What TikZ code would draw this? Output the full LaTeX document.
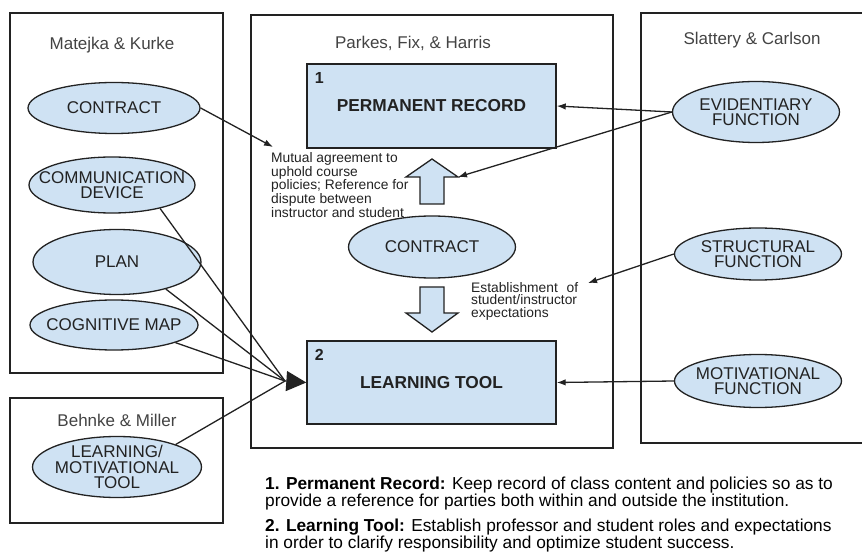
\documentclass[tikz,border=0pt]{standalone}
\usepackage{fontspec}
\setmainfont{Liberation Sans}
\usetikzlibrary{shapes.geometric,arrows.meta}
\definecolor{boxblue}{HTML}{CFE2F3}
\definecolor{ink}{HTML}{222222}

\begin{document}
\begin{tikzpicture}[x=1pt,y=-1pt,
  group/.style={draw=ink, line width=1.4pt},
  oval/.style={ellipse, draw=ink, line width=1.3pt, fill=boxblue, inner sep=0pt},
  ovaltext/.style={align=center, inner sep=0pt, text=ink, font=\fontsize{17}{15.5}\selectfont},
  block/.style={rectangle, draw=ink, line width=1.4pt, fill=boxblue, minimum width=249pt,
                inner sep=0pt, text=ink, font=\fontsize{17.3}{20}\selectfont\bfseries},
  tag/.style={inner sep=0pt, text=ink, font=\fontsize{16}{18}\selectfont\bfseries},
  title/.style={inner sep=0pt, text=ink!85, font=\fontsize{17}{20}\selectfont},
  note/.style={anchor=north west, align=left, inner sep=0pt, text=ink,
               font=\fontsize{13.8}{12.8}\selectfont},
  link/.style={draw=ink, line width=1.3pt, -{Latex[length=9pt,width=6.5pt]}},
  feed/.style={draw=ink, line width=1.3pt},
  hollow/.style={draw=ink, line width=1.3pt, fill=boxblue, line join=miter}
]
\useasboundingbox (0,0) rectangle (862,553);

% ---- source groups ----
\draw[group] (10,13) rectangle (223,373);
\node[title] (mktitle) at (112,45) {Matejka \& Kurke};
\draw[group] (10,398) rectangle (223,523);
\node[title] (bmtitle) at (117,420) {Behnke \& Miller};
\draw[group] (251,15) rectangle (613,448);
\node[title] (pfhtitle) at (413,43) {Parkes, Fix, \& Harris};
\draw[group] (866,13) -- (641,13) -- (641,443) -- (866,443);
\node[title] (sctitle) at (752,40) {Slattery \& Carlson};

% ---- Matejka & Kurke ----
\node[oval, minimum width=172pt, minimum height=51pt,
      label={[ovaltext]center:CONTRACT}] (mk_contract) at (114,108) {};
\node[oval, minimum width=166pt, minimum height=56pt,
      label={[ovaltext]center:{COMMUNICATION\\DEVICE}}] (mk_comm) at (112,185) {};
\node[oval, minimum width=168pt, minimum height=65pt,
      label={[ovaltext]center:PLAN}] (mk_plan) at (117,262) {};
\node[oval, minimum width=168pt, minimum height=50pt,
      label={[ovaltext]center:COGNITIVE MAP}] (mk_cog) at (114,325) {};

% ---- Behnke & Miller ----
\node[oval, minimum width=169pt, minimum height=61pt,
      label={[ovaltext]center:{LEARNING/\\MOTIVATIONAL\\TOOL}}] (bm_tool) at (117,467) {};

% ---- Parkes, Fix, & Harris ----
\node[block, minimum height=84pt] (pr) at (431.5,106) {PERMANENT RECORD};
\node[tag] (prnum) at ([xshift=13pt,yshift=-15pt]pr.north west) {1};
\node[block, minimum height=83pt] (lt) at (431.5,382.5) {LEARNING TOOL};
\node[tag] (ltnum) at ([xshift=13pt,yshift=-15pt]lt.north west) {2};
\node[oval, minimum width=167pt, minimum height=62pt,
      label={[ovaltext]center:CONTRACT}] (ct) at (432,247) {};

% block arrows between the record, the contract and the tool
\draw[hollow] (420,204) -- (420,177) -- (406,177) -- (432,159) -- (458,177)
              -- (444,177) -- (444,204) -- cycle;
\coordinate (upwing) at (458,177);
\draw[hollow] (420,287) -- (444,287) -- (444,313) -- (458,313) -- (432,332)
              -- (406,313) -- (420,313) -- cycle;

\node[note] (mutual) at (271,152)
  {Mutual agreement to\\uphold course\\policies; Reference for\\dispute between\\instructor and student};
\node[note] (establish) at (471,282)
  {Establishment\hspace{5pt} of\\student/instructor\\expectations};

% ---- Slattery & Carlson ----
\node[oval, minimum width=167pt, minimum height=61pt,
      label={[ovaltext]center:{EVIDENTIARY\\FUNCTION}}] (ev) at (756,112) {};
\node[oval, minimum width=167pt, minimum height=52pt,
      label={[ovaltext]center:{STRUCTURAL\\FUNCTION}}] (st) at (758,254) {};
\node[oval, minimum width=167pt, minimum height=53pt,
      label={[ovaltext]center:{MOTIVATIONAL\\FUNCTION}}] (mo) at (758,381) {};

% ---- connectors ----
\coordinate (mutualtip) at (273,147);
\draw[link] (mk_contract.east) -- (mutualtip);
\draw[link] (ev.west) -- (pr.east);
\draw[link] (ev.west) -- (upwing);
\coordinate (esttip) at (588,283);
\draw[link] (st.west) -- (esttip);
\draw[link] (mo.west) -- (lt.east);

\coordinate (hub) at (285,381);
\draw[feed] (mk_comm.-26) -- (hub);
\draw[feed] (mk_plan.-29) -- (hub);
\draw[feed] (mk_cog.-16) -- (hub);
\draw[feed] (bm_tool.21) -- (hub);
\draw[draw=ink, line width=1.3pt, -{Triangle[length=20pt,width=20pt]}] (hub) -- (lt.west);

% ---- legend ----
\node[anchor=south west, align=left, inner sep=0pt, text=black,
      font=\fontsize{17.3}{16}\selectfont] (legend) at (265,552)
  {\textbf{1. Permanent Record:} Keep record of class content and policies so as to\\
   provide a reference for parties both within and outside the institution.\\[7pt]
   \textbf{2. Learning Tool:} Establish professor and student roles and expectations\\
   in order to clarify responsibility and optimize student success.};
\end{tikzpicture}
\end{document}
